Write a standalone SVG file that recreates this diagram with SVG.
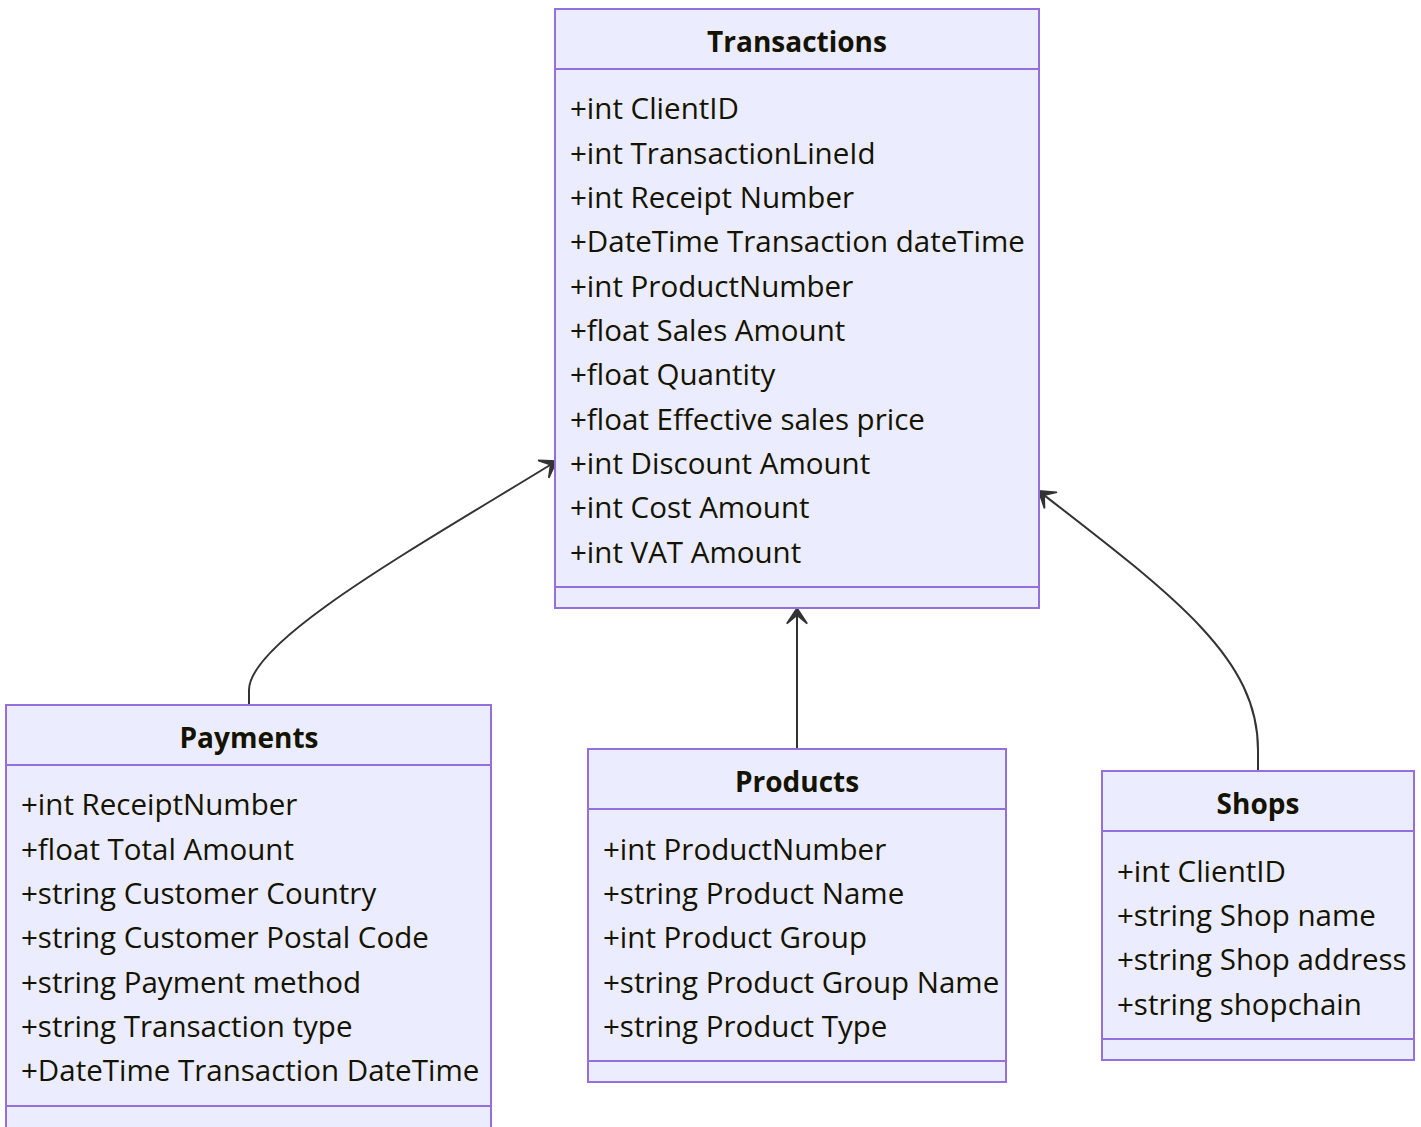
<svg xmlns="http://www.w3.org/2000/svg" width="1421" height="1127" viewBox="0 0 1421 1127">
<defs>
<style>
.box{fill:#ECECFF;stroke:#9370DB;stroke-width:2}
.div{stroke:#9370DB;stroke-width:2}
.t{font-family:"Open Sans","Liberation Sans",sans-serif;font-size:29.5px;fill:#131300}
.h{font-family:"Open Sans","Liberation Sans",sans-serif;font-size:28px;font-weight:bold;fill:#131300;text-anchor:middle}
.edge{fill:none;stroke:#333;stroke-width:2}
</style>
<marker id="arr" viewBox="0 0 20 14" refX="17" refY="7" markerWidth="34" markerHeight="24" orient="auto" markerUnits="userSpaceOnUse">
<path d="M18,7 L9,13 L14,7 L9,1 Z" fill="#333" stroke="#333" stroke-width="1"/>
</marker>
</defs>
<rect width="1421" height="1127" fill="#fff"/>
<g id="edges">
<path class="edge" d="M249,705 L249,690 C249,640 420,545 555,462" marker-end="url(#arr)"/>
<path class="edge" d="M797,749 L797,610" marker-end="url(#arr)"/>
<path class="edge" d="M1258,771 L1258,750 C1258,660 1180,600 1040,492" marker-end="url(#arr)"/>
</g>
<g id="Transactions">
<rect class="box" x="555" y="9" width="484" height="599"/>
<line class="div" x1="555" y1="69" x2="1039" y2="69"/>
<line class="div" x1="555" y1="587" x2="1039" y2="587"/>
<text class="h" x="797" y="52">Transactions</text>
<text class="t" x="570" y="119">+int ClientID</text>
<text class="t" x="570" y="164">+int TransactionLineId</text>
<text class="t" x="570" y="208">+int Receipt Number</text>
<text class="t" x="570" y="252">+DateTime Transaction dateTime</text>
<text class="t" x="570" y="297">+int ProductNumber</text>
<text class="t" x="570" y="341">+float Sales Amount</text>
<text class="t" x="570" y="385">+float Quantity</text>
<text class="t" x="570" y="430">+float Effective sales price</text>
<text class="t" x="570" y="474">+int Discount Amount</text>
<text class="t" x="570" y="518">+int Cost Amount</text>
<text class="t" x="570" y="563">+int VAT Amount</text>
</g>
<g id="Payments">
<rect class="box" x="6" y="705" width="485" height="425"/>
<line class="div" x1="6" y1="765" x2="491" y2="765"/>
<line class="div" x1="6" y1="1106" x2="491" y2="1106"/>
<text class="h" x="249" y="748">Payments</text>
<text class="t" x="21" y="815">+int ReceiptNumber</text>
<text class="t" x="21" y="860">+float Total Amount</text>
<text class="t" x="21" y="904">+string Customer Country</text>
<text class="t" x="21" y="948">+string Customer Postal Code</text>
<text class="t" x="21" y="993">+string Payment method</text>
<text class="t" x="21" y="1037">+string Transaction type</text>
<text class="t" x="21" y="1081">+DateTime Transaction DateTime</text>
</g>
<g id="Products">
<rect class="box" x="588" y="749" width="418" height="333"/>
<line class="div" x1="588" y1="809" x2="1006" y2="809"/>
<line class="div" x1="588" y1="1061" x2="1006" y2="1061"/>
<text class="h" x="797" y="792">Products</text>
<text class="t" x="603" y="860">+int ProductNumber</text>
<text class="t" x="603" y="904">+string Product Name</text>
<text class="t" x="603" y="948">+int Product Group</text>
<text class="t" x="603" y="993">+string Product Group Name</text>
<text class="t" x="603" y="1037">+string Product Type</text>
</g>
<g id="Shops">
<rect class="box" x="1102" y="771" width="312" height="289"/>
<line class="div" x1="1102" y1="831" x2="1414" y2="831"/>
<line class="div" x1="1102" y1="1039" x2="1414" y2="1039"/>
<text class="h" x="1258" y="814">Shops</text>
<text class="t" x="1117" y="882">+int ClientID</text>
<text class="t" x="1117" y="926">+string Shop name</text>
<text class="t" x="1117" y="970">+string Shop address</text>
<text class="t" x="1117" y="1015">+string shopchain</text>
</g>
</svg>
